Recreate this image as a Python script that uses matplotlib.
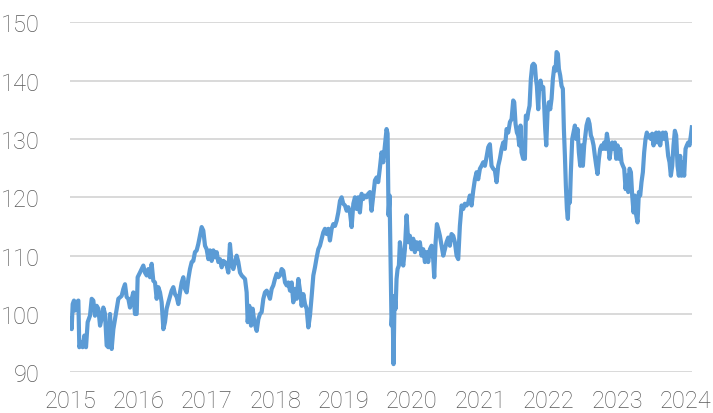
import matplotlib.pyplot as plt

# time in decimal years, index level
dates = [
    2015.015, 2015.024, 2015.039, 2015.058, 2015.073, 2015.097, 2015.122, 2015.136, 2015.161, 2015.185,
    2015.210, 2015.234, 2015.258, 2015.292, 2015.317, 2015.341, 2015.365, 2015.390, 2015.414, 2015.439,
    2015.463, 2015.487, 2015.512, 2015.536, 2015.560, 2015.585, 2015.609, 2015.634, 2015.658, 2015.682,
    2015.707, 2015.755, 2015.780, 2015.804, 2015.828, 2015.853, 2015.877, 2015.902, 2015.926, 2015.950,
    2015.975, 2015.989,
    2016.023, 2016.072, 2016.096, 2016.121, 2016.145, 2016.170, 2016.194, 2016.218, 2016.243, 2016.267,
    2016.291, 2016.316, 2016.340, 2016.365, 2016.389, 2016.413, 2016.438, 2016.486, 2016.511, 2016.535,
    2016.560, 2016.584, 2016.608, 2016.633, 2016.657, 2016.681, 2016.706, 2016.730, 2016.754, 2016.779,
    2016.803, 2016.827, 2016.852, 2016.876, 2016.900, 2016.925, 2016.949, 2016.974, 2016.998,
    2017.023, 2017.047, 2017.071, 2017.096, 2017.120, 2017.145, 2017.169, 2017.193, 2017.218, 2017.242,
    2017.266, 2017.291, 2017.315, 2017.339, 2017.364, 2017.388, 2017.413, 2017.437, 2017.461, 2017.486,
    2017.510, 2017.534, 2017.559, 2017.583, 2017.598, 2017.622, 2017.647, 2017.671, 2017.695, 2017.730,
    2017.754, 2017.778, 2017.802, 2017.827, 2017.851, 2017.876, 2017.900, 2017.924, 2017.949, 2017.973,
    2017.997,
    2018.022, 2018.046, 2018.070, 2018.095, 2018.119, 2018.144, 2018.168, 2018.192, 2018.217, 2018.241,
    2018.265, 2018.290, 2018.314, 2018.339, 2018.363, 2018.387, 2018.412, 2018.436, 2018.460, 2018.485,
    2018.509, 2018.534, 2018.558, 2018.582, 2018.607, 2018.631, 2018.655, 2018.680, 2018.704, 2018.728,
    2018.753, 2018.777, 2018.801, 2018.826, 2018.850, 2018.875, 2018.899, 2018.923, 2018.948, 2018.972,
    2018.996,
    2019.021, 2019.045, 2019.070, 2019.094, 2019.118, 2019.143, 2019.167, 2019.191, 2019.215, 2019.239,
    2019.264, 2019.288, 2019.312, 2019.337, 2019.361, 2019.386, 2019.410, 2019.434, 2019.459, 2019.483,
    2019.507, 2019.532, 2019.556, 2019.580, 2019.605, 2019.629, 2019.644, 2019.658, 2019.673, 2019.688,
    2019.702, 2019.717, 2019.731, 2019.746, 2019.761, 2019.775, 2019.790, 2019.809, 2019.824, 2019.848,
    2019.873, 2019.897, 2019.922, 2019.946, 2019.970, 2019.995,
    2020.019, 2020.043, 2020.068, 2020.092, 2020.116, 2020.141, 2020.165, 2020.190, 2020.214, 2020.238,
    2020.263, 2020.287, 2020.311, 2020.326, 2020.346, 2020.365, 2020.385, 2020.409, 2020.433, 2020.458,
    2020.482, 2020.506, 2020.531, 2020.555, 2020.579, 2020.604, 2020.628, 2020.653, 2020.677, 2020.701,
    2020.726, 2020.750, 2020.774, 2020.799, 2020.823, 2020.847, 2020.872, 2020.896, 2020.921, 2020.945,
    2020.969, 2020.994,
    2021.018, 2021.042, 2021.067, 2021.091, 2021.116, 2021.140, 2021.164, 2021.189, 2021.213, 2021.238,
    2021.262, 2021.286, 2021.311, 2021.335, 2021.359, 2021.384, 2021.408, 2021.433, 2021.457, 2021.481,
    2021.496, 2021.515, 2021.535, 2021.554, 2021.569, 2021.588, 2021.603, 2021.627, 2021.652, 2021.666,
    2021.686, 2021.700, 2021.720, 2021.739, 2021.759, 2021.778, 2021.798, 2021.813, 2021.827, 2021.847,
    2021.861, 2021.881, 2021.900, 2021.920, 2021.934, 2021.949, 2021.964, 2021.983,
    2022.003, 2022.022, 2022.042, 2022.061, 2022.081, 2022.100, 2022.115, 2022.134, 2022.149, 2022.168,
    2022.188, 2022.207, 2022.222, 2022.237, 2022.251, 2022.266, 2022.280, 2022.295, 2022.310, 2022.324,
    2022.344, 2022.363, 2022.383, 2022.402, 2022.422, 2022.441, 2022.461, 2022.480, 2022.500, 2022.519,
    2022.553, 2022.578, 2022.597, 2022.617, 2022.636, 2022.656, 2022.675, 2022.695, 2022.714, 2022.734,
    2022.753, 2022.773, 2022.792, 2022.812, 2022.831, 2022.851, 2022.870, 2022.890, 2022.909, 2022.929,
    2022.948, 2022.968, 2022.987,
    2023.007, 2023.026, 2023.046, 2023.065, 2023.085, 2023.104, 2023.124, 2023.143, 2023.163, 2023.182,
    2023.202, 2023.221, 2023.241, 2023.260, 2023.280, 2023.299, 2023.319, 2023.338, 2023.357, 2023.377,
    2023.396, 2023.416, 2023.435, 2023.455, 2023.474, 2023.494, 2023.513, 2023.533, 2023.552, 2023.572,
    2023.591, 2023.611, 2023.630, 2023.650, 2023.669, 2023.689, 2023.708, 2023.728, 2023.747, 2023.767,
    2023.786, 2023.806, 2023.825, 2023.845, 2023.864, 2023.884, 2023.903, 2023.923, 2023.942, 2023.962,
    2023.981,
    2024.001, 2024.020, 2024.040, 2024.059, 2024.079, 2024.093,
]

values = [
    99.2, 97.4, 101.7, 102.3, 100.6, 102.0, 102.3, 94.3, 95.2, 94.3,
    96.3, 94.3, 98.6, 99.7, 102.6, 102.3, 99.7, 101.4, 100.9, 98.0,
    99.2, 101.1, 100.0, 94.6, 94.3, 100.0, 94.0, 97.4, 99.1, 100.9,
    102.6, 103.1, 104.3, 105.1, 102.9, 102.6, 101.1, 102.6, 103.7, 100.0,
    100.0, 106.3,
    107.1, 108.3, 107.1, 106.6, 107.7, 106.3, 108.6, 105.7, 105.4, 102.6,
    104.6, 103.7, 102.0, 97.4, 98.6, 100.9, 102.0, 104.0, 104.6, 103.4,
    102.9, 101.7, 103.7, 105.4, 106.3, 104.3, 103.7, 106.0, 107.7, 108.9,
    109.1, 110.6, 110.9, 112.0, 113.4, 114.9, 114.3, 111.7, 111.1,
    109.4, 110.9, 109.1, 110.9, 109.7, 110.6, 108.9, 109.4, 108.0, 109.1,
    108.9, 108.3, 107.1, 112.0, 108.6, 107.7, 108.9, 110.0, 108.9, 107.1,
    106.6, 106.3, 106.0, 103.7, 98.6, 101.4, 98.0, 100.9, 98.6, 97.1,
    99.1, 100.0, 100.3, 102.6, 103.7, 104.0, 103.4, 102.6, 104.3, 104.9,
    106.0,
    106.9, 106.3, 106.6, 107.7, 107.4, 105.4, 104.9, 105.4, 104.0, 105.4,
    102.0, 104.3, 102.6, 106.0, 104.0, 101.4, 103.4, 101.7, 100.9, 97.7,
    99.7, 103.1, 106.6, 108.0, 109.7, 111.1, 111.7, 112.9, 114.0, 114.6,
    113.7, 114.6, 112.6, 114.6, 115.4, 115.1, 116.0, 117.4, 119.4, 120.0,
    118.9,
    118.6, 117.7, 118.3, 117.4, 114.9, 118.9, 120.0, 118.0, 120.0, 117.4,
    120.6, 119.7, 120.3, 120.0, 120.6, 120.9, 117.7, 120.3, 122.9, 123.4,
    122.6, 125.1, 127.7, 126.0, 128.9, 131.7, 130.9, 116.9, 120.3, 108.3,
    98.0, 100.9, 91.4, 103.1, 100.9, 106.0, 107.7, 108.3, 112.3, 110.0,
    108.3, 111.1, 116.9, 112.3, 113.4, 111.1,
    112.9, 110.6, 112.3, 111.1, 112.3, 110.0, 111.1, 108.9, 110.6, 108.9,
    111.1, 111.7, 109.4, 106.3, 112.3, 115.4, 114.6, 113.4, 111.7, 110.0,
    111.1, 112.3, 113.1, 111.7, 113.7, 113.4, 112.3, 110.0, 109.4, 115.1,
    118.6, 118.0, 118.9, 118.6, 119.1, 120.3, 118.6, 121.1, 123.1, 124.3,
    123.1, 124.9,
    125.4, 126.0, 125.4, 126.9, 128.6, 129.1, 125.4, 124.9, 124.6, 122.6,
    125.4, 126.6, 128.3, 129.4, 128.3, 131.7, 131.1, 132.9, 133.4, 136.6,
    136.3, 132.6, 131.1, 130.6, 128.9, 132.3, 127.7, 126.6, 126.6, 134.0,
    133.4, 134.6, 135.7, 140.3, 142.6, 142.9, 142.6, 140.3, 139.1, 135.1,
    139.1, 140.0, 138.6, 138.9, 135.7, 131.7, 128.9, 134.6,
    136.3, 135.1, 136.9, 140.3, 142.3, 141.7, 144.9, 144.6, 142.0, 140.9,
    139.1, 138.6, 131.7, 127.1, 122.0, 118.0, 116.3, 120.9, 119.1, 124.3,
    130.0, 131.1, 132.3, 130.0, 131.7, 127.7, 125.4, 128.9, 125.4, 128.9,
    132.3, 133.4, 132.6, 130.6, 130.0, 128.9, 127.1, 125.4, 124.0, 126.6,
    128.3, 128.9, 128.3, 129.4, 128.3, 130.9, 129.4, 126.6, 128.3, 129.4,
    128.3, 129.4, 126.6,
    128.9, 126.6, 128.3, 126.0, 125.4, 124.9, 121.4, 123.7, 120.9, 124.9,
    124.3, 120.3, 117.4, 120.3, 116.9, 115.7, 120.9, 120.3, 122.6, 124.3,
    127.7, 130.0, 131.1, 130.3, 130.6, 130.0, 130.9, 128.9, 130.6, 131.1,
    129.4, 131.1, 128.9, 130.6, 131.1, 130.0, 131.1, 129.4, 127.1, 126.0,
    123.7, 125.4, 128.9, 131.4, 130.6, 125.4, 123.7, 127.1, 123.7, 126.0,
    123.7,
    128.3, 128.9, 129.4, 128.9, 130.6, 132.0,
]

years = [2015, 2016, 2017, 2018, 2019, 2020, 2021, 2022, 2023, 2024]
year_labels = [str(y) for y in years]
y_ticks = [90, 100, 110, 120, 130, 140, 150]

plt.rcParams['font.family'] = ['Roboto', 'DejaVu Sans']

fig = plt.figure(figsize=(7.13, 4.14), dpi=100)
ax = fig.add_axes([0.0982, 0.0983, 0.8723, 0.8454])

ax.plot(dates, values, color='#5B9BD5', linewidth=3.0, solid_joinstyle='round')

ax.set_xlim(2015, 2024.095)
ax.set_ylim(90, 150)
ax.set_xticks(years)
ax.set_xticklabels(year_labels)
ax.set_yticks(y_ticks)

ax.grid(axis='y', color='#D9D9D9', linewidth=1.4)
ax.grid(axis='x', visible=False)
ax.set_axisbelow(True)
for s in ax.spines.values():
    s.set_visible(False)

ax.tick_params(length=0, colors='#595959', labelsize=17)
ax.tick_params(axis='y', pad=22)
ax.tick_params(axis='x', pad=12)
for lbl in ax.get_xticklabels() + ax.get_yticklabels():
    lbl.set_fontweight('light')

fig.savefig('out.png', dpi=100)
